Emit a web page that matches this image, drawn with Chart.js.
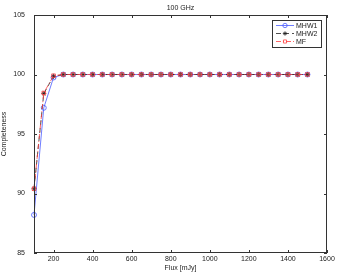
<!DOCTYPE html>
<html>
<head>
<meta charset="utf-8"/>
<title>100 GHz</title>
<style>
  body { margin: 0; padding: 0; background: #fff; }
  #wrap { width: 338px; height: 273px; position: relative; }
</style>
</head>
<body>
<div id="wrap"><canvas id="chart" width="338" height="273"></canvas></div>
<script src="https://cdn.jsdelivr.net/npm/chart.js"></script>
<script>
const flux = [100,150,200,250,300,350,400,450,500,550,600,650,700,750,800,850,900,950,1000,1050,1100,1150,1200,1250,1300,1350,1400,1450,1500];
const mhw1 = [88.2,97.2,99.75,100,100,100,100,100,100,100,100,100,100,100,100,100,100,100,100,100,100,100,100,100,100,100,100,100,100];
const mhw2 = [90.4,98.4,99.85,100,100,100,100,100,100,100,100,100,100,100,100,100,100,100,100,100,100,100,100,100,100,100,100,100,100];
const mf   = [90.4,98.45,99.9,100,100,100,100,100,100,100,100,100,100,100,100,100,100,100,100,100,100,100,100,100,100,100,100,100,100];
const xTicks = [200,400,600,800,1000,1200,1400,1600];
const yTicks = [85,90,95,100,105];
const FONT = "Liberation Sans, Arial, sans-serif";

function pts(ys) { return flux.map((x, i) => ({ x: x, y: ys[i] })); }

const series = [
  { label: "MHW1", data: pts(mhw1), borderColor: "#4a5cff", borderDash: [], pointStyle: "circle", order: 2 },
  { label: "MHW2", data: pts(mhw2), borderColor: "#222222", borderDash: [5, 3], pointStyle: "star", order: 1 },
  { label: "MF",   data: pts(mf),   borderColor: "#ff4040", borderDash: [5, 2, 1, 2], pointStyle: "rect", order: 0 }
];

// matlab-like box with inward ticks on all four sides, plus the legend
const boxPlugin = {
  id: "box",
  afterDraw(chart) {
    const ctx = chart.ctx, a = chart.chartArea;
    const xs = chart.scales.x, ys = chart.scales.y;
    ctx.save();
    ctx.strokeStyle = "#333";
    ctx.lineWidth = 1;
    ctx.strokeRect(a.left + 0.5, a.top + 0.5, a.right - a.left - 1, a.bottom - a.top - 1);
    ctx.beginPath();
    xTicks.forEach(v => {
      const px = Math.round(xs.getPixelForValue(v)) + 0.5;
      ctx.moveTo(px, a.bottom); ctx.lineTo(px, a.bottom - 3);
      ctx.moveTo(px, a.top); ctx.lineTo(px, a.top + 3);
    });
    yTicks.forEach(v => {
      const py = Math.round(ys.getPixelForValue(v)) + 0.5;
      ctx.moveTo(a.left, py); ctx.lineTo(a.left + 3, py);
      ctx.moveTo(a.right, py); ctx.lineTo(a.right - 3, py);
    });
    ctx.stroke();

    // title
    ctx.fillStyle = "#222";
    ctx.font = "7px " + FONT;
    ctx.textAlign = "center";
    ctx.textBaseline = "middle";
    ctx.fillText("100 GHz", (a.left + a.right) / 2, 8);

    // legend
    const lx = 272, ly = 20, lw = 49, lh = 27;
    ctx.fillStyle = "#fff";
    ctx.fillRect(lx, ly, lw, lh);
    ctx.strokeStyle = "#333";
    ctx.strokeRect(lx + 0.5, ly + 0.5, lw, lh);
    chart.data.datasets.forEach((ds, i) => {
      const y = ly + 5.5 + i * 8;
      ctx.strokeStyle = ds.borderColor;
      ctx.lineWidth = 0.8;
      ctx.setLineDash(ds.borderDash);
      ctx.beginPath(); ctx.moveTo(lx + 4, y); ctx.lineTo(lx + 22, y); ctx.stroke();
      ctx.setLineDash([]);
      ctx.fillStyle = "rgba(0,0,0,0)";
      Chart.helpers.drawPoint(ctx, { pointStyle: ds.pointStyle, radius: 2.2, borderWidth: 0.8, rotation: 0 }, lx + 13, y);
      ctx.fillStyle = "#222";
      ctx.textAlign = "left";
      ctx.fillText(ds.label, lx + 24, y + 0.5);
    });
    ctx.restore();
  }
};

const tickFont = { size: 7, family: FONT };

new Chart(document.getElementById("chart"), {
  type: "line",
  data: {
    datasets: series.map(s => ({
      label: s.label,
      data: s.data,
      order: s.order,
      clip: false,
      borderColor: s.borderColor,
      borderDash: s.borderDash,
      borderWidth: 0.8,
      pointStyle: s.pointStyle,
      pointRadius: 2.5,
      pointBorderColor: s.borderColor,
      pointBackgroundColor: "rgba(0,0,0,0)",
      pointBorderWidth: 0.8,
      fill: false,
      tension: 0
    }))
  },
  plugins: [boxPlugin],
  options: {
    responsive: false,
    animation: false,
    events: [],
    layout: { padding: { left: 0, right: 11, top: 15, bottom: 0 } },
    plugins: { legend: { display: false }, title: { display: false }, tooltip: { enabled: false } },
    scales: {
      x: {
        type: "linear", min: 100, max: 1600,
        afterBuildTicks: s => { s.ticks = xTicks.map(v => ({ value: v })); },
        afterFit: s => { s.height = 20; },
        grid: { display: false, drawTicks: false, tickLength: 0 },
        border: { display: false },
        ticks: { color: "#222", font: tickFont, padding: 2, maxRotation: 0, autoSkip: false, callback: v => String(v) },
        title: { display: true, text: "Flux [mJy]", color: "#222", font: tickFont, padding: { top: 0, bottom: 1 } }
      },
      y: {
        type: "linear", min: 85, max: 105,
        afterBuildTicks: s => { s.ticks = yTicks.map(v => ({ value: v })); },
        afterFit: s => { s.width = 34; },
        grid: { display: false, drawTicks: false, tickLength: 0 },
        border: { display: false },
        ticks: { color: "#222", font: tickFont, padding: 9, autoSkip: false, callback: v => String(v) },
        title: { display: true, text: "Completeness", color: "#222", font: tickFont, padding: { top: 0, bottom: 0 } }
      }
    }
  }
});
</script>
</body>
</html>
